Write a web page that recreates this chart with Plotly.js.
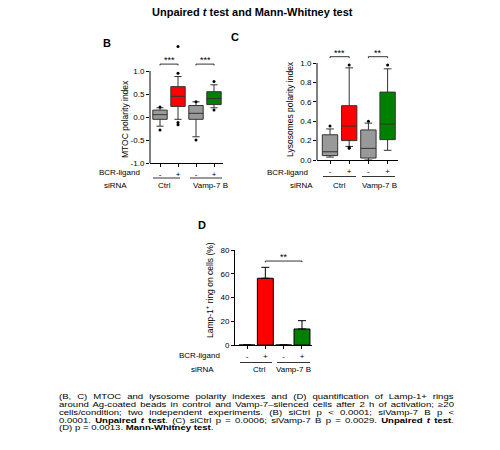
<!DOCTYPE html>
<html>
<head>
<meta charset="utf-8">
<script src="https://cdn.plot.ly/plotly-3.0.1.min.js"></script>
<style>html,body{margin:0;padding:0;background:#fff;}#chart{width:500px;height:450px;}</style>
</head>
<body>
<div id="chart"></div>
<script>
// ---------- data ----------
const ligandLabels = ['-', '+', '-', '+'];
const groupLabels = ['Ctrl', 'Vamp-7 B'];
const boxColors = ['#999999', '#ff0000', '#999999', '#008000'];

// Panel B: MTOC polarity index (box stats)
const mtocQ1 = [-0.05, 0.23, -0.05, 0.27];
const mtocMedian = [0.05, 0.45, 0.08, 0.40];
const mtocQ3 = [0.15, 0.66, 0.25, 0.55];
const mtocLow = [-0.20, -0.05, -0.43, 0.20];
const mtocHigh = [0.20, 0.88, 0.33, 0.70];
const mtocOutX = [0, 0, 1, 1, 1, 1, 2, 2, 3, 3];
const mtocOutY = [0.22, -0.28, 0.95, 1.53, -0.12, -0.17, 0.33, -0.50, 0.77, 0.15];

// Panel C: Lysosomes polarity index (box stats)
const lysoQ1 = [0.045, 0.20, 0.02, 0.21];
const lysoMedian = [0.085, 0.35, 0.12, 0.37];
const lysoQ3 = [0.26, 0.56, 0.31, 0.70];
const lysoLow = [0.03, 0.14, 0.00, 0.10];
const lysoHigh = [0.32, 0.95, 0.38, 0.94];
const lysoOutX = [0, 0, 1, 1, 1, 2, 3];
const lysoOutY = [0.35, -0.01, 0.98, 0.13, 0.12, 0.40, 0.98];

// Panel D: Lamp-1+ ring on cells (%)
const lampMean = [0, 56.2, 0, 13.5];
const lampErr = [0, 9.2, 0, 7.0];
const barColors = ['#ff0000', '#ff0000', '#008000', '#008000'];

const sigB = ['***', '***'];
const sigC = ['***', '**'];
const sigD = ['**'];

const captionLines = [
  '(B, C) MTOC and lysosome polarity indexes and (D) quantification of Lamp-1+ rings',
  'around Ag-coated beads in control and Vamp-7\u2013silenced cells after 2 h of activation; \u226520',
  'cells/condition; two independent experiments. (B) siCtrl p &lt; 0.0001; siVamp-7 B p &lt;',
  '0.0001. <b>Unpaired <i>t</i> test</b>. (C) siCtrl p = 0.0006; siVamp-7 B p = 0.0029. <b>Unpaired <i>t</i> test</b>.',
  '(D) p = 0.0013. <b>Mann-Whitney test</b>.'
];

// ---------- layout helpers ----------
const W = 500, H = 450;
const FONT = 'Arial, "Liberation Sans", sans-serif';
const px = x => x / W;
const py = y => 1 - y / H;

const data = [];
function addBoxes(ax, ay, q1, med, q3, lo, hi, ox, oy) {
  for (let i = 0; i < q1.length; i++) {
    data.push({
      type: 'box', xaxis: ax, yaxis: ay, x: [i],
      q1: [q1[i]], median: [med[i]], q3: [q3[i]],
      lowerfence: [lo[i]], upperfence: [hi[i]],
      fillcolor: boxColors[i], line: {color: '#333333', width: 1},
      width: 0.8, whiskerwidth: 0.5, boxpoints: false, hoverinfo: 'skip'
    });
  }
  data.push({
    type: 'scatter', mode: 'markers', xaxis: ax, yaxis: ay,
    x: ox, y: oy, cliponaxis: false,
    marker: {color: '#000', size: 3}, hoverinfo: 'skip'
  });
}
addBoxes('x', 'y', mtocQ1, mtocMedian, mtocQ3, mtocLow, mtocHigh, mtocOutX, mtocOutY);
addBoxes('x2', 'y2', lysoQ1, lysoMedian, lysoQ3, lysoLow, lysoHigh, lysoOutX, lysoOutY);
data.push({
  type: 'bar', xaxis: 'x3', yaxis: 'y3', x: [0, 1, 2, 3], y: lampMean,
  width: 0.87, marker: {color: barColors, line: {color: '#000', width: 1}},
  error_y: {type: 'data', symmetric: false, array: lampErr, arrayminus: [0, 0, 0, 0],
            color: '#000', thickness: 1, width: 4, visible: true},
  hoverinfo: 'skip'
});

function xAxis(x0, x1, c0, step) {
  return {
    domain: [px(x0), px(x1)], range: [(x0 - c0) / step, (x1 - c0) / step],
    tickvals: [0, 1, 2, 3], ticktext: ligandLabels,
    showgrid: false, zeroline: false, showline: true, linecolor: '#000', linewidth: 1,
    ticks: 'outside', ticklen: 3, tickcolor: '#000', tickfont: {size: 8, family: FONT, color: '#000'},
    fixedrange: true
  };
}
function yAxis(bottomPx, pxPerUnit, r0, r1, vals, fmt, showline) {
  const topPx = bottomPx - (r1 - r0) * pxPerUnit;
  return {
    domain: [py(bottomPx), py(topPx)], range: [r0, r1],
    tickvals: vals, ticktext: vals.map(v => v.toFixed(fmt)),
    showgrid: false, zeroline: false, showline: showline, linecolor: '#000', linewidth: 1,
    ticks: 'outside', ticklen: 3, tickcolor: '#000', tickfont: {size: 8, family: FONT, color: '#000'},
    fixedrange: true
  };
}

const shapes = [];
const annotations = [];
function txt(text, x, y, opts) {
  annotations.push(Object.assign({
    text: text, xref: 'paper', yref: 'paper', x: px(x), y: py(y),
    xanchor: 'center', yanchor: 'middle', showarrow: false,
    font: {size: 8, family: FONT, color: '#000'}
  }, opts || {}));
}
function bracket(ax, ay, x0, x1, y, d, label) {
  shapes.push({type: 'path', xref: ax, yref: ay,
    path: `M${x0},${y - d} L${x0},${y} L${x1},${y} L${x1},${y - d}`,
    line: {color: '#000', width: 0.8}});
  annotations.push({text: label, xref: ax, yref: ay, x: (x0 + x1) / 2, y: y,
    xanchor: 'center', yanchor: 'bottom', yshift: -3, showarrow: false,
    font: {size: 9, family: FONT, color: '#000'}});
}
function underline(x0, x1, y) {
  shapes.push({type: 'line', xref: 'paper', yref: 'paper',
    x0: px(x0), x1: px(x1), y0: py(y), y1: py(y), line: {color: '#000', width: 0.8}});
}

// y-axis lines for B and C (only across labelled range)
shapes.push({type: 'line', xref: 'x domain', yref: 'y', x0: 0, x1: 0, y0: -1, y1: 1, line: {color: '#000', width: 1}});
shapes.push({type: 'line', xref: 'x2 domain', yref: 'y2', x0: 0, x1: 0, y0: 0, y1: 1, line: {color: '#000', width: 1}});

// significance brackets
bracket('x', 'y', 0, 1, 1.15, 0.03, sigB[0]);
bracket('x', 'y', 2, 3, 1.15, 0.03, sigB[1]);
bracket('x2', 'y2', 0, 1, 1.065, 0.015, sigC[0]);
bracket('x2', 'y2', 2, 3, 1.065, 0.015, sigC[1]);
bracket('x3', 'y3', 1, 3, 70.7, 1, sigD[0]);

// titles & labels
txt('<b>Unpaired <i>t</i> test and Mann-Whitney test</b>', 252, 12, {font: {size: 11, family: FONT, color: '#000'}});
txt('<b>B</b>', 107, 43, {font: {size: 11, family: FONT, color: '#000'}});
txt('<b>C</b>', 235, 37, {font: {size: 11, family: FONT, color: '#000'}});
txt('<b>D</b>', 202, 225, {font: {size: 11, family: FONT, color: '#000'}});

txt('MTOC polarity index', 125, 119, {textangle: -90, font: {size: 8.5, family: FONT, color: '#000'}});
txt('Lysosomes polarity index', 290, 109, {textangle: -90, font: {size: 8.5, family: FONT, color: '#000'}});
txt('Lamp-1<sup>+</sup> ring on cells (%)', 209, 290, {textangle: -90, font: {size: 8.5, family: FONT, color: '#000'}});

// panel B rows
txt('BCR-ligand', 142, 173, {xanchor: 'right'});
txt('siRNA', 115, 185);
txt(groupLabels[0], 164, 185);
txt(groupLabels[1], 210, 185);
underline(153, 180, 178);
underline(190, 222, 178);
// panel C rows
txt('BCR-ligand', 310, 172, {xanchor: 'right'});
txt('siRNA', 301, 185);
txt(groupLabels[0], 339, 185);
txt(groupLabels[1], 379, 185);
underline(323, 356, 176.5);
underline(362, 395, 176.5);
// panel D rows
txt('BCR-ligand', 222, 355, {xanchor: 'right'});
txt('siRNA', 202, 369);
txt(groupLabels[0], 259, 369);
txt(groupLabels[1], 293, 369);
underline(240, 272, 362.5);
underline(277, 310, 362.5);

// caption (reference text is horizontally stretched and justified)
const capLeft = 57, capRight = 453, capFont = 7, capStretch = 1.37;
const capStart = annotations.length;
const capY = [397.2, 405, 412.8, 420.6, 428.4];
captionLines.forEach((line, i) => {
  txt(line, capLeft, capY[i], {xanchor: 'left', align: 'left', font: {size: capFont, family: FONT, color: '#000'}});
});

const layout = {
  width: W, height: H, margin: {l: 0, r: 0, t: 0, b: 0},
  paper_bgcolor: '#fff', plot_bgcolor: 'rgba(0,0,0,0)',
  showlegend: false, boxmode: 'overlay', barmode: 'overlay',
  font: {family: FONT, size: 8, color: '#000'},
  xaxis: Object.assign(xAxis(150, 223, 160, 18), {anchor: 'y'}),
  yaxis: Object.assign(yAxis(163, 46, -1, 1.6, [-1, -0.5, 0, 0.5, 1], 1, false), {anchor: 'x'}),
  xaxis2: Object.assign(xAxis(317, 398, 330, 19.2), {anchor: 'y2'}),
  yaxis2: Object.assign(yAxis(160, 97, 0, 1.1, [0, 0.2, 0.4, 0.6, 0.8, 1.0], 1, false), {anchor: 'x2'}),
  xaxis3: Object.assign(xAxis(235, 312, 247, 18.33), {anchor: 'y3'}),
  yaxis3: Object.assign(yAxis(345, 95 / 80, 0, 80, [0, 20, 40, 60, 80], 0, true), {anchor: 'x3'}),
  shapes: shapes, annotations: annotations
};

Plotly.newPlot('chart', data, layout, {staticPlot: true, displayModeBar: false}).then(function (gd) {
  const target = (capRight - capLeft) / capStretch;
  gd.querySelectorAll('.annotation').forEach(function (g) {
    const idx = +g.getAttribute('data-index');
    const k = idx - capStart;
    if (k < 0 || k >= captionLines.length) return;
    const t = g.querySelector('text.annotation-text');
    if (!t) return;
    if (k < captionLines.length - 1) {
      const w = t.getBBox().width;
      const spaces = (t.textContent.match(/ /g) || []).length;
      if (spaces > 0 && w < target) t.style.wordSpacing = ((target - w) / spaces).toFixed(2) + 'px';
    }
    const b = t.getBBox();
    t.setAttribute('transform', 'translate(' + b.x + ',0) scale(' + capStretch + ',1) translate(' + (-b.x) + ',0)');
  });
});
</script>
</body>
</html>
